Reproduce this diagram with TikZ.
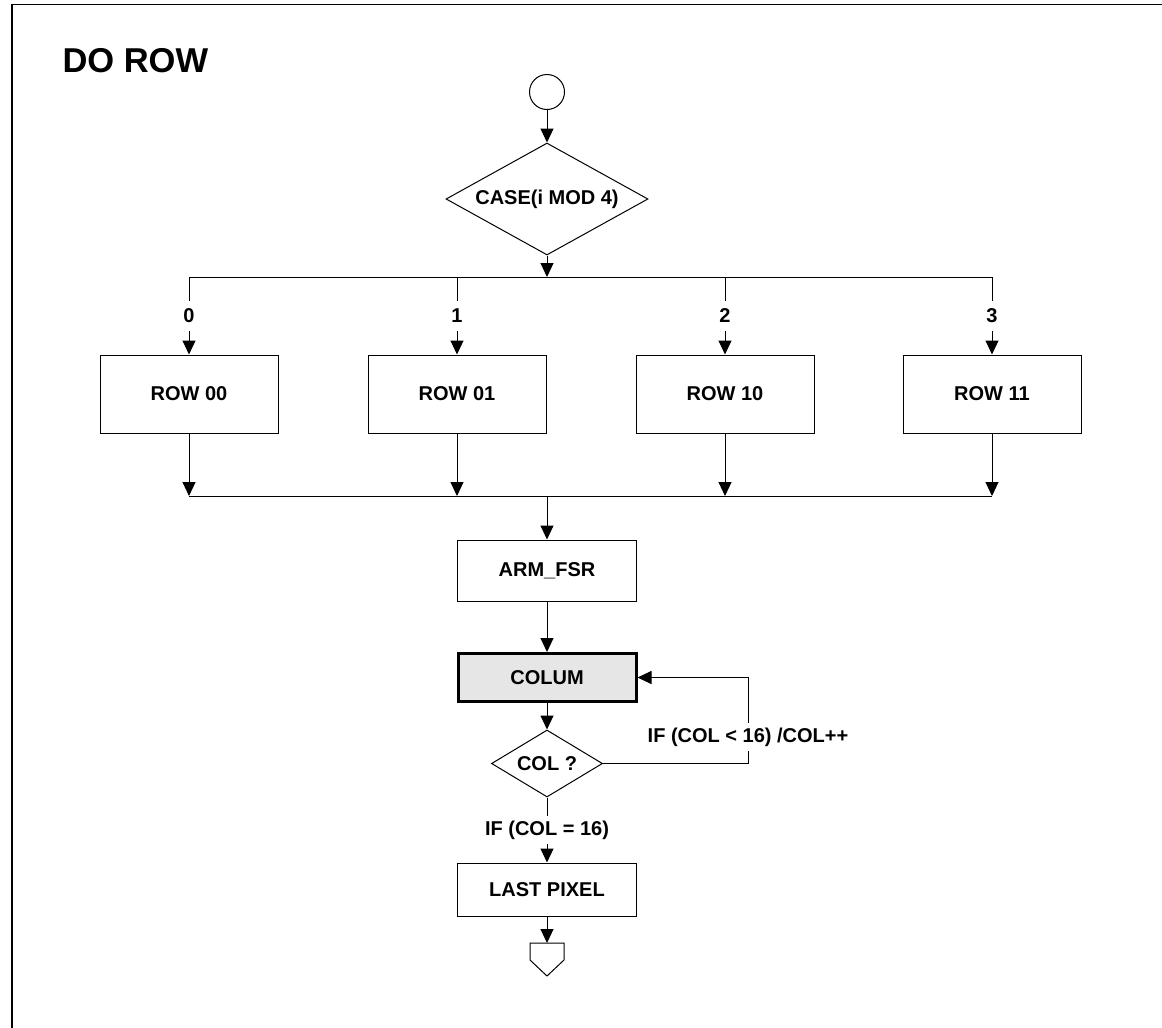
\documentclass[tikz,border=0pt]{standalone}
\usepackage{fontspec}
\setmainfont{Liberation Sans}
\usetikzlibrary{arrows.meta,shapes.geometric}
\definecolor{colgray}{RGB}{230,230,230}
\begin{document}
\begin{tikzpicture}[x=1pt,y=-1pt,
  line width=1pt,
  every node/.style={font=\bfseries\fontsize{20}{24}\selectfont},
  box/.style={draw, rectangle, inner sep=0pt},
  arr/.style={-{Triangle[length=14pt,width=13pt]}},
  lbl/.style={fill=white, inner sep=5pt},
  digit/.style={fill=white, inner sep=8pt}]
\useasboundingbox (0,0) rectangle (1162,1028);
\draw[line width=1.5pt] (12,1028) -- (12,4.5) -- (1162,4.5);
\node[anchor=base west, inner sep=0pt, font=\bfseries\fontsize{34.5}{40}\selectfont] (title) at (62,72) {DO ROW};
% start and case
\node[draw, circle, minimum size=35pt, inner sep=0pt] (start) at (547,92) {};
\node[draw, diamond, aspect=1.8, minimum width=202pt, minimum height=112pt, inner sep=0pt] (case) at (547,199) {CASE(i MOD 4)};
\draw[arr] (start.south) -- (case.north);
% rows
\node[box, minimum width=178pt, minimum height=78pt] (r0) at (189,394) {ROW 00};
\node[box, minimum width=178pt, minimum height=78pt] (r1) at (457,394) {ROW 01};
\node[box, minimum width=178pt, minimum height=78pt] (r2) at (725,394) {ROW 10};
\node[box, minimum width=178pt, minimum height=78pt] (r3) at (992,394) {ROW 11};
\coordinate (bus) at (547,277);
\draw (r0.north |- bus) -- (r3.north |- bus);
\draw[arr] (case.south) -- (bus);
\draw[arr] (r0.north |- bus) -- node[digit]{0} (r0.north);
\draw[arr] (r1.north |- bus) -- node[digit]{1} (r1.north);
\draw[arr] (r2.north |- bus) -- node[digit]{2} (r2.north);
\draw[arr] (r3.north |- bus) -- node[digit]{3} (r3.north);
\coordinate (merge) at (547,496);
\draw (r0.south |- merge) -- (r3.south |- merge);
\draw[arr] (r0.south) -- (r0.south |- merge);
\draw[arr] (r1.south) -- (r1.south |- merge);
\draw[arr] (r2.south) -- (r2.south |- merge);
\draw[arr] (r3.south) -- (r3.south |- merge);
% arm, colum
\node[box, minimum width=179pt, minimum height=61pt] (arm) at (547,570.5) {ARM\_FSR};
\draw[arr] (merge) -- (arm.north);
\node[box, line width=3pt, fill=colgray, minimum width=178pt, minimum height=48pt] (colum) at (547,677.5) {COLUM};
\draw[arr] (arm.south) -- (colum.north);
\node[draw, diamond, aspect=1.66, minimum width=111pt, minimum height=67pt, inner sep=0pt] (col) at (547,763.5) {COL ?};
\draw[arr] (colum.south) -- (col.north);
\coordinate (loopc) at (748,763.5);
\draw[arr] (col.east) -- (loopc) |- (colum.east);
\node[lbl] (iflt) at (748,737) {IF (COL < 16) /COL++};
% last pixel
\node[box, minimum width=179pt, minimum height=53pt] (last) at (547,889.5) {LAST PIXEL};
\draw[arr] (col.south) -- node[lbl]{IF (COL = 16)} (last.north);
\coordinate (off) at (547,943);
\draw[arr] (last.south) -- (off);
\draw (off) -- ++(-17,0) -- ++(0,17) -- ++(17,16) -- ++(17,-16) -- ++(0,-17) -- cycle;
\end{tikzpicture}
\end{document}
